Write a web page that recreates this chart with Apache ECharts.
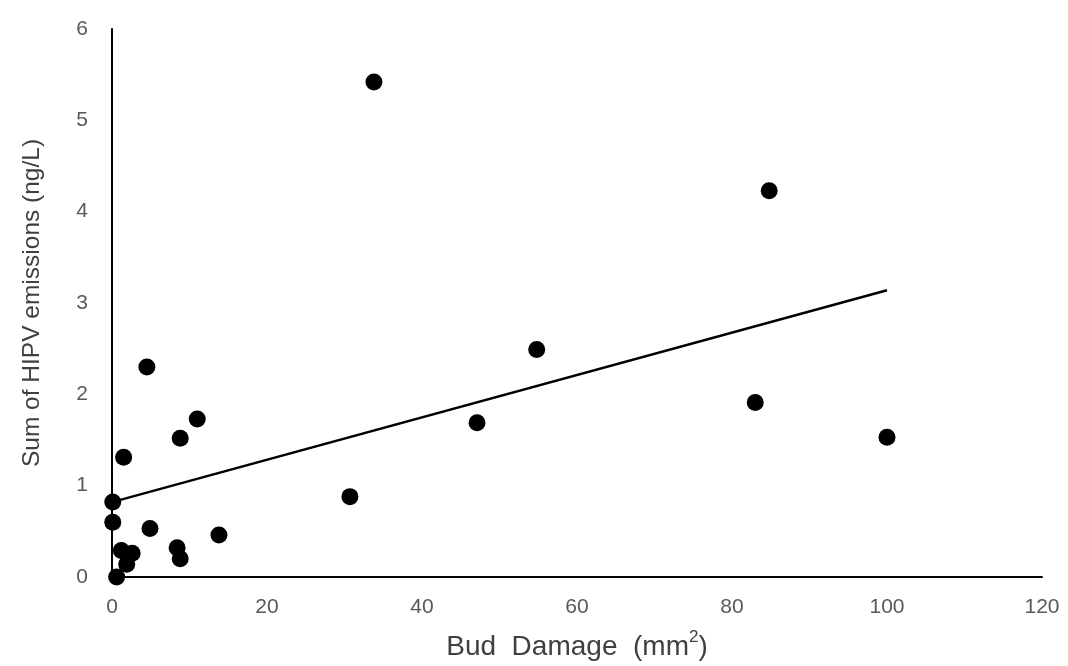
<!DOCTYPE html>
<html><head><meta charset="utf-8">
<script src="https://cdn.jsdelivr.net/npm/echarts@6/dist/echarts.min.js"></script>
<style>html,body{margin:0;padding:0;background:#fff}#c{width:1068px;height:666px}</style>
</head><body><div id="c"></div>
<script>
const budDamage = [33.8, 84.8, 54.8, 4.5, 83.0, 11.0, 47.1, 8.8, 100.0, 1.5, 0.1, 30.7, 0.1, 4.9, 13.8, 8.4, 8.8, 1.2, 2.6, 1.9, 0.6];
const hipvSum   = [5.42, 4.23, 2.49, 2.30, 1.91, 1.73, 1.69, 1.52, 1.53, 1.31, 0.82, 0.88, 0.60, 0.53, 0.46, 0.32, 0.20, 0.29, 0.26, 0.14, 0.00];
const trendX = [0, 100];
const trendY = [0.82, 3.14];
const xTicks = [0, 20, 40, 60, 80, 100, 120];
const yTicks = [0, 1, 2, 3, 4, 5, 6];

const chart = echarts.init(document.getElementById('c'));
const font = 'Liberation Sans, Arial, sans-serif';
chart.setOption({
  animation: false,
  backgroundColor: '#fff',
  grid: {left: 112, right: 26, top: 29, bottom: 83},
  xAxis: {
    type: 'value', min: xTicks[0], max: xTicks[xTicks.length-1], interval: 20,
    name: '{t|Bud  Damage  (mm}{sup|2}{t|)}', nameLocation: 'middle', nameGap: 52,
    nameTextStyle: {fontFamily: font, fontSize: 28, color: '#404040',
      rich: {
        t: {fontFamily: font, fontSize: 28, color: '#404040', lineHeight: 32, verticalAlign: 'bottom'},
        sup: {fontFamily: font, fontSize: 17, color: '#404040', lineHeight: 32, verticalAlign: 'top'}
      }},
    axisLine: {lineStyle: {color: '#000', width: 2}},
    axisTick: {show: false}, splitLine: {show: false},
    axisLabel: {fontFamily: font, fontSize: 21, color: '#595959', margin: 20}
  },
  yAxis: {
    type: 'value', min: yTicks[0], max: yTicks[yTicks.length-1], interval: 1,
    name: 'Sum of HIPV emissions (ng/L)', nameLocation: 'middle', nameGap: 67,
    nameTextStyle: {fontFamily: font, fontSize: 24.5, color: '#404040'},
    axisLine: {show: true, lineStyle: {color: '#000', width: 2}},
    axisTick: {show: false}, splitLine: {show: false},
    axisLabel: {fontFamily: font, fontSize: 21, color: '#595959', margin: 24}
  },
  series: [
    {type: 'scatter', data: budDamage.map((x, i) => [x, hipvSum[i]]), symbolSize: 17,
     itemStyle: {color: '#000', opacity: 1}, z: 3},
    {type: 'line', data: trendX.map((x, i) => [x, trendY[i]]), symbol: 'none',
     lineStyle: {color: '#000', width: 2.5}, z: 2}
  ]
});
</script></body></html>
